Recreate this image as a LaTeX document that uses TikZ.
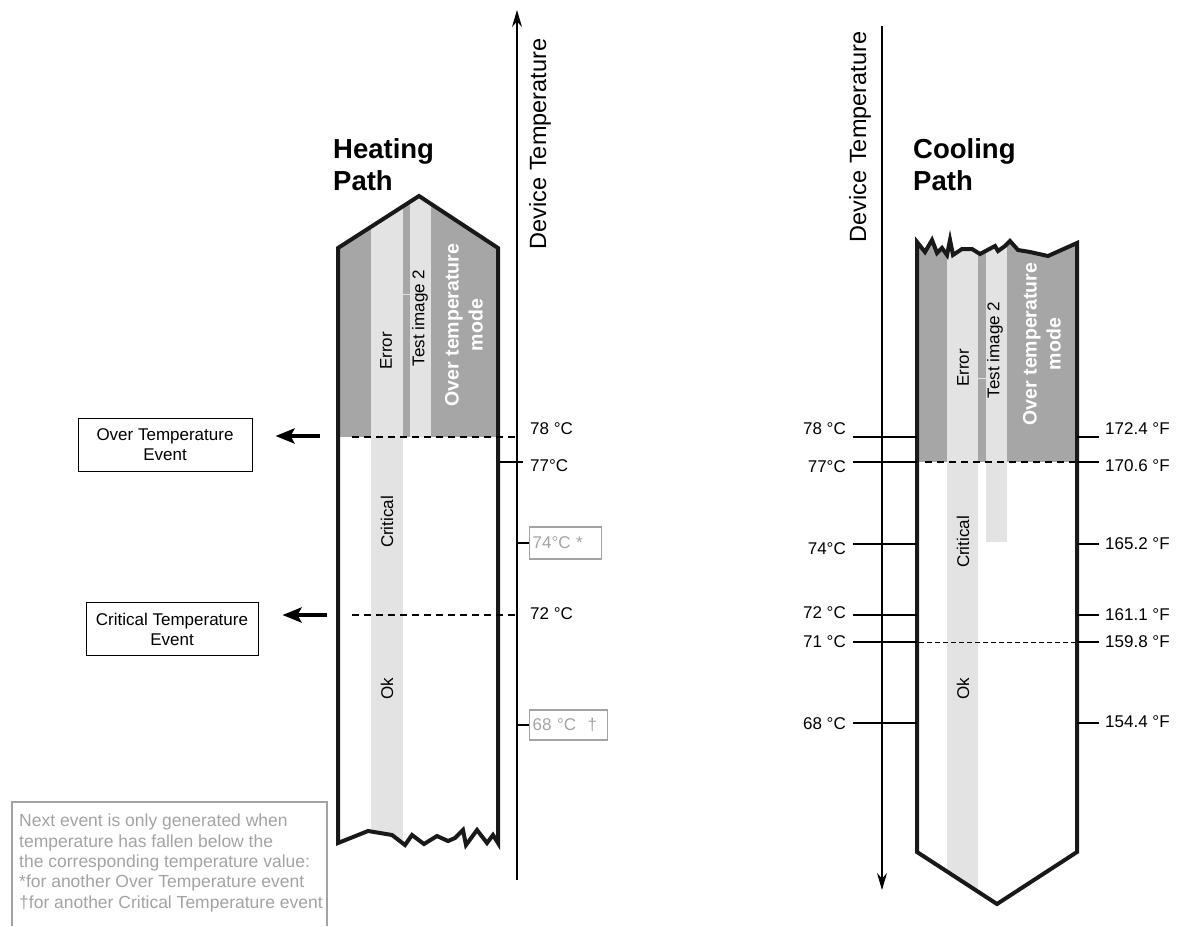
\documentclass[tikz,border=0pt]{standalone}
\usepackage{fontspec}
\setmainfont{Liberation Sans}
\usetikzlibrary{arrows.meta}

\definecolor{modegray}{HTML}{A6A6A6}
\definecolor{bandgray}{HTML}{E3E3E3}
\definecolor{notegray}{HTML}{A3A3A3}

\begin{document}
\begin{tikzpicture}[x=1pt, y=-1pt, >=Stealth,
    outline/.style={line width=4pt, line join=miter, draw=black!90},
    level/.style={line width=2.4pt, dash pattern=on 7pt off 5pt},
    thinlevel/.style={line width=1pt, dash pattern=on 5pt off 3pt},
    tick/.style={line width=1.6pt},
    axisline/.style={line width=1.5pt, -{Stealth[length=17pt, width=10pt]}},
    evarrow/.style={line width=4.5pt, -{Stealth[length=19pt, width=15pt, inset=4pt]}},
    lbl/.style={font=\fontsize{17}{20}\selectfont, inner sep=0pt},
    band/.style={font=\fontsize{17}{20}\selectfont, rotate=90, inner sep=0pt},
    mode/.style={font=\fontsize{19.5}{24}\selectfont\bfseries, text=white,
      rotate=90, align=center, inner sep=0pt},
    heading/.style={font=\fontsize{27.5}{32}\selectfont\bfseries, align=left,
      anchor=north west, inner sep=0pt},
    axistitle/.style={font=\fontsize{23.5}{26}\selectfont, rotate=90, inner sep=0pt},
    evbox/.style={draw, line width=1pt, align=center, minimum height=53pt,
      font=\fontsize{17}{20}\selectfont},
    valbox/.style={draw=notegray, line width=1.2pt, text=notegray, align=left,
      inner xsep=3pt, minimum height=32pt, font=\fontsize{17}{20}\selectfont}]
  \useasboundingbox (0,0) rectangle (1180,926);

  \def\heatshape{(338,843) -- (338,248) -- (419,196) -- (498,248) -- (498,843)
    -- (493,835) -- (487,843) -- (477,830) -- (466,845) -- (463,830) -- (455,838)
    -- (448,841) -- (437,836) -- (424,844) -- (412,835) -- (405,845) -- (392,835)
    -- (368,831) -- cycle}
  \def\coolshape{(917,852) -- (917,242) -- (925,252) -- (932,240) -- (937,253)
    -- (942,248) -- (947,255) -- (950,240) -- (953,255) -- (962,249) -- (972,249)
    -- (980,254) -- (995,246) -- (998,251) -- (1005,246) -- (1010,241) -- (1018,250)
    -- (1030,252) -- (1048,256) -- (1077,243) -- (1077,852) -- (997,904) -- cycle}

  % heating path
  \begin{scope}
    \clip \heatshape;
    \fill[modegray] (330,180) rectangle (505,437);
    \fill[bandgray] (371,180) rectangle (403,900);
    \fill[bandgray] (410,180) rectangle (431,437);
    \draw[bandgray, line width=1pt] (403,294) -- (410,294);
  \end{scope}
  \draw[outline] \heatshape;
  \draw[level] (352,437) -- (517,437);
  \draw[level] (352,615) -- (517,615);

  \node[band] (herror) at (386,351) {Error};
  \node[band] (htest) at (420,318) {Test image 2};
  \node[mode] (hmode) at (464,325) {Over temperature\\mode};
  \node[band] (hcrit) at (387,522) {Critical};
  \node[band] (hok) at (387,689) {Ok};
  \node[heading] (hhead) at (333,138) {Heating\\Path};

  \coordinate (hlow) at (517,880);
  \coordinate (htop) at (517,10);
  \draw[axisline] (hlow) -- (htop);
  \node[axistitle] (htitle) at (540,144) {Device Temperature};

  \draw[tick] (500,462) -- (523,462);
  \node[lbl, anchor=west] (h78) at (530,429) {78 °C};
  \node[lbl, anchor=west] (h77) at (530,466) {77°C};
  \node[lbl, anchor=west] (h72) at (530,614) {72 °C};
  \node[valbox, text width=66pt, anchor=west] (h74) at (529,543) {74°C *};
  \node[valbox, text width=72pt, anchor=west, minimum height=30pt] (h68) at (529,725) {68 °C\ \ †};
  \draw[tick] (517,543) -- (h74.west);
  \draw[tick] (517,725) -- (h68.west);

  % events
  \node[evbox, minimum width=174pt] (overbox) at (165,444.5) {Over Temperature\\Event};
  \node[evbox, minimum width=172pt] (critbox) at (172,629) {Critical Temperature\\Event};
  \coordinate (overtail) at (320,436);
  \coordinate (crittail) at (327,615);
  \draw[evarrow, shorten >=23pt] (overtail) -- (overtail -| overbox.east);
  \draw[evarrow, shorten >=24pt] (crittail) -- (crittail -| critbox.east);

  % note
  \draw[notegray, line width=1.2pt] (12,926) -- (12,802) -- (327,802) -- (327,926);
  \node[anchor=north west, inner sep=0pt, align=left, text=notegray,
    font=\fontsize{17.5}{20.3}\selectfont] (note) at (19,814)
    {Next event is only generated when\\temperature has fallen below the\\the corresponding temperature value:\\*for another Over Temperature event\\†for another Critical Temperature event};

  % cooling path
  \begin{scope}
    \clip \coolshape;
    \fill[modegray] (900,220) rectangle (1090,462);
    \fill[bandgray] (947,220) rectangle (978,910);
    \fill[bandgray] (986,220) rectangle (1007,542);
    \draw[bandgray, line width=1pt] (978,378) -- (986,378);
  \end{scope}
  \draw[outline] \coolshape;
  \draw[level] (925,462) -- (1075,462);
  \draw[thinlevel] (919,642) -- (1075,642);

  \node[band] (cerror) at (963,368) {Error};
  \node[band] (ctest) at (995,350) {Test image 2};
  \node[mode] (cmode) at (1042,344) {Over temperature\\mode};
  \node[band] (ccrit) at (963,542) {Critical};
  \node[band] (cok) at (963,689) {Ok};
  \node[heading] (chead) at (913,138) {Cooling\\Path};

  \coordinate (ctop) at (882,26);
  \coordinate (clow) at (882,890);
  \draw[axisline] (ctop) -- (clow);
  \node[axistitle] (ctitle) at (860,137) {Device Temperature};

  \foreach \ly/\y/\t/\n in {429/437/78 °C/c78, 467/462/77°C/c77, 549/544/74°C/c74,
      613/615/72 °C/c72, 642/642/71 °C/c71, 724/723/68 °C/c68}
  {
    \node[lbl, anchor=east] (\n) at (846,\ly) {\t};
    \draw[tick] (853,\y) -- (917,\y);
  }
  \foreach \ly/\y/\t/\n in {429/437/172.4 °F/f78, 466/462/170.6 °F/f77, 544/544/165.2 °F/f74,
      615/615/161.1 °F/f72, 642/642/159.8 °F/f71, 722/723/154.4 °F/f68}
  {
    \node[lbl, anchor=west] (\n) at (1105,\ly) {\t};
    \draw[tick] (1077,\y) -- (1099,\y);
  }
\end{tikzpicture}
\end{document}
